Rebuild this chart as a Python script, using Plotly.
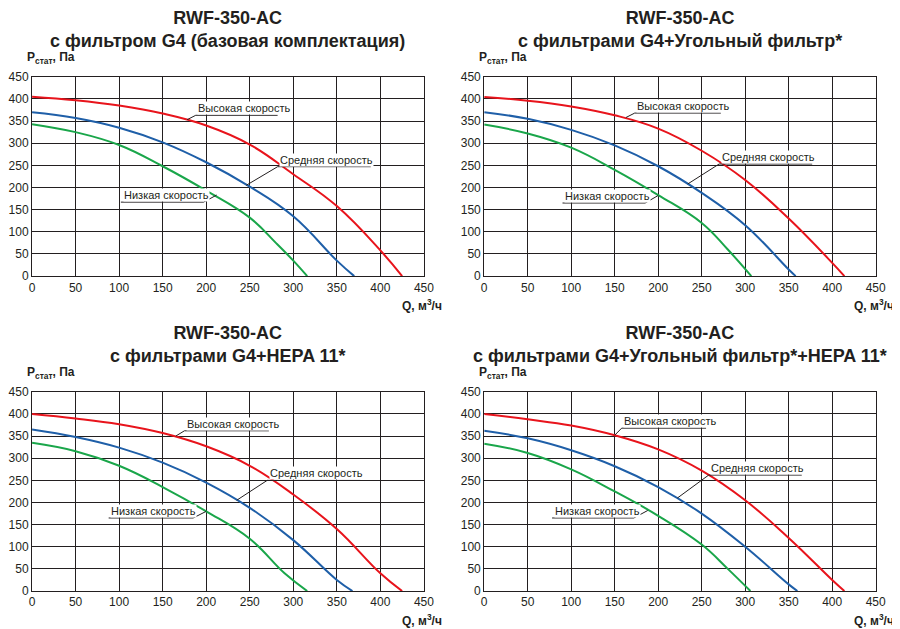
import plotly.graph_objects as go

titles = ["RWF-350-AC<br>с фильтром G4 (базовая комплектация)",
          "RWF-350-AC<br>с фильтрами G4+Угольный фильтр*",
          "RWF-350-AC<br>с фильтрами G4+HEPA 11*",
          "RWF-350-AC<br>с фильтрами G4+Угольный фильтр*+HEPA 11*"]

# panel 1
p1_red_x = [0, 50, 100, 150, 200, 250, 300, 350, 400, 425]
p1_red_y = [405, 397, 385, 367, 340, 297, 230, 158, 58, 0]
p1_blue_x = [0, 50, 100, 150, 200, 250, 300, 350, 370]
p1_blue_y = [370, 357, 335, 302, 257, 202, 135, 35, 0]
p1_green_x = [0, 50, 100, 150, 200, 250, 280, 300, 316]
p1_green_y = [343, 325, 296, 248, 193, 132, 75, 35, 0]
# panel 2
p2_red_x = [0, 50, 100, 150, 200, 250, 300, 350, 400, 414]
p2_red_y = [404, 396, 383, 363, 333, 283, 217, 130, 30, 0]
p2_blue_x = [0, 50, 100, 150, 200, 250, 300, 350, 358]
p2_blue_y = [370, 355, 330, 295, 248, 188, 115, 15, 0]
p2_green_x = [0, 50, 100, 150, 200, 250, 280, 307]
p2_green_y = [342, 322, 290, 240, 183, 120, 60, 0]
# panel 3
p3_red_x = [0, 50, 100, 150, 200, 250, 300, 350, 400, 425]
p3_red_y = [400, 390, 377, 357, 327, 283, 218, 140, 40, 0]
p3_blue_x = [0, 50, 100, 150, 200, 250, 300, 350, 368]
p3_blue_y = [365, 348, 324, 290, 245, 188, 115, 25, 0]
p3_green_x = [0, 50, 100, 150, 200, 250, 290, 316]
p3_green_y = [335, 316, 283, 235, 180, 118, 40, 0]
# panel 4
p4_red_x = [0, 50, 100, 150, 200, 250, 300, 350, 400, 414]
p4_red_y = [400, 388, 374, 352, 320, 272, 205, 120, 25, 0]
p4_blue_x = [0, 50, 100, 150, 200, 250, 300, 350, 360]
p4_blue_y = [362, 345, 318, 282, 235, 175, 100, 15, 0]
p4_green_x = [0, 50, 100, 150, 200, 250, 280, 306]
p4_green_y = [333, 312, 275, 225, 170, 105, 50, 0]

ticks = [0, 50, 100, 150, 200, 250, 300, 350, 400, 450]
labels = ["Высокая скорость", "Средняя скорость", "Низкая скорость"]
colors = ["#e8141c", "#1f5fa8", "#1aa64a"]

panels = [
    [(p1_red_x, p1_red_y), (p1_blue_x, p1_blue_y), (p1_green_x, p1_green_y)],
    [(p2_red_x, p2_red_y), (p2_blue_x, p2_blue_y), (p2_green_x, p2_green_y)],
    [(p3_red_x, p3_red_y), (p3_blue_x, p3_blue_y), (p3_green_x, p3_green_y)],
    [(p4_red_x, p4_red_y), (p4_blue_x, p4_blue_y), (p4_green_x, p4_green_y)],
]
# leader: (curve point, elbow, end of underline)
leaders = [
    [((178, 353), (188, 363), (282, 363)), ((246, 205), (282, 247), (389, 247)), ((212, 183), (197, 167), (102, 167))],
    [((163, 358), (173, 368), (272, 368)), ((234, 208), (270, 253), (377, 253)), ((200, 182), (185, 165), (90, 165))],
    [((165, 350), (175, 362), (272, 362)), ((235, 205), (270, 250), (377, 250)), ((200, 180), (185, 165), (88, 165))],
    [((150, 352), (158, 368), (255, 368)), ((222, 210), (258, 262), (365, 262)), ((188, 182), (172, 165), (78, 165))],
]

dx = 8 / 900
dy = 8 / 629
xdom = [(0.0356 - dx, 0.471 - dx), (0.538 - dx, 0.973 - dx)]
ydom = [(0.561 + dy, 0.878 + dy), (0.0604 + dy, 0.377 + dy)]
font = "Liberation Sans, Arial, sans-serif"

fig = go.Figure()
layout = dict(width=900, height=629, margin=dict(l=0, r=0, t=0, b=0, autoexpand=False),
              paper_bgcolor="white", plot_bgcolor="white", showlegend=False,
              font=dict(family=font, color="#231f20"))
annotations = []
shapes = []
for i in range(4):
    r, c = divmod(i, 2)
    n = "" if i == 0 else str(i + 1)
    xa, ya = "x" + n, "y" + n
    for (xs, ys), col in zip(panels[i], colors):
        fig.add_trace(go.Scatter(x=xs, y=ys, mode="lines", xaxis=xa, yaxis=ya,
                                 line=dict(color=col, width=2, shape="spline", smoothing=1.2)))
    ax = dict(domain=list(xdom[c]), range=[0, 450], tickvals=ticks, showgrid=True,
              gridcolor="#231f20", gridwidth=1, zeroline=False, showline=True, linecolor="#231f20",
              mirror=True, ticks="", tickfont=dict(size=12), anchor=ya)
    ay = dict(domain=list(ydom[r]), range=[0, 450], tickvals=ticks, showgrid=True,
              gridcolor="#231f20", gridwidth=1, zeroline=False, showline=True, linecolor="#231f20",
              mirror=True, ticks="", tickfont=dict(size=12), anchor=xa)
    layout["xaxis" + n] = ax
    layout["yaxis" + n] = ay
    xc = (xdom[c][0] + xdom[c][1]) / 2
    annotations.append(dict(text="<b>" + titles[i] + "</b>", x=xc, y=ydom[r][1] + 0.038,
                            xref="paper", yref="paper", xanchor="center", yanchor="bottom",
                            showarrow=False, font=dict(size=18, color="#231f20")))
    annotations.append(dict(text="<b>P<sub>стат</sub>, Па</b>", x=xdom[c][0] - 0.008, y=ydom[r][1] + 0.014,
                            xref="paper", yref="paper", xanchor="left", yanchor="bottom",
                            showarrow=False, font=dict(size=12)))
    annotations.append(dict(text="<b>Q, м<sup>3</sup>/ч</b>", x=xdom[c][1] + 0.022, y=ydom[r][0] - 0.03,
                            xref="paper", yref="paper", xanchor="right", yanchor="top",
                            showarrow=False, font=dict(size=12)))
    for (p, e, u), lab in zip(leaders[i], labels):
        shapes.append(dict(type="path", xref=xa, yref=ya,
                           path=f"M {p[0]},{p[1]} L {e[0]},{e[1]} L {u[0]},{u[1]}",
                           line=dict(color="#231f20", width=1)))
        left = min(e[0], u[0])
        annotations.append(dict(text=lab, x=left + 2, y=e[1], xref=xa, yref=ya,
                                xanchor="left", yanchor="bottom", showarrow=False,
                                bgcolor="white", borderpad=0, font=dict(size=11)))
layout["annotations"] = annotations
layout["shapes"] = shapes
fig.update_layout(**layout)
fig.write_html("out.html")
